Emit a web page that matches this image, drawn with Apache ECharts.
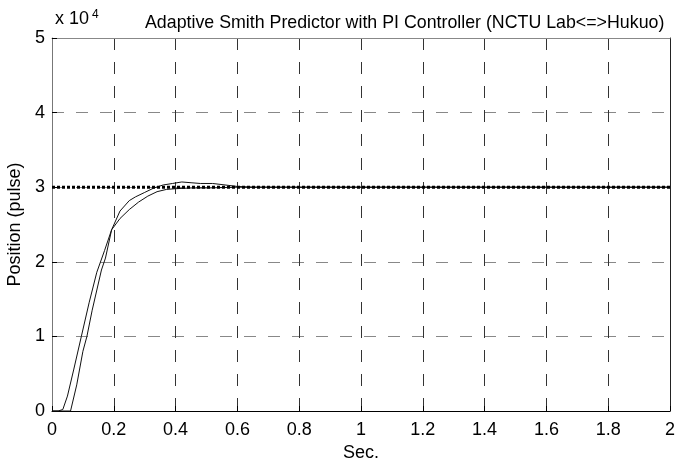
<!DOCTYPE html>
<html>
<head>
<meta charset="utf-8">
<script src="https://cdn.jsdelivr.net/npm/echarts@6/dist/echarts.min.js"></script>
<style>html,body{margin:0;padding:0;background:#fff;}#c{width:676px;height:461px;}</style>
</head>
<body>
<div id="c"></div>
<script>
// Time (sec) and position (x 10^4 pulse)
var tA = [0, 0.02, 0.035, 0.05, 0.07, 0.095, 0.12, 0.145, 0.17, 0.193, 0.22, 0.25, 0.28, 0.31, 0.34, 0.37, 0.40, 0.45, 0.50, 0.60, 1.0, 1.5, 2.0];
var vA = [0, 0, 0.02, 0.2, 0.55, 1.0, 1.45, 1.86, 2.15, 2.43, 2.58, 2.70, 2.80, 2.88, 2.94, 2.97, 2.98, 2.99, 2.99, 3.0, 3.0, 3.0, 3.0];
var tB = [0, 0.06, 0.065, 0.08, 0.10, 0.113, 0.13, 0.16, 0.173, 0.193, 0.22, 0.25, 0.27, 0.30, 0.33, 0.36, 0.39, 0.42, 0.45, 0.48, 0.52, 0.56, 0.60, 0.65, 1.0, 1.5, 2.0];
var vB = [0, 0, 0.02, 0.35, 0.8, 1.0, 1.35, 1.89, 2.05, 2.43, 2.68, 2.82, 2.87, 2.93, 2.99, 3.03, 3.05, 3.07, 3.06, 3.05, 3.05, 3.03, 3.01, 3.0, 3.0, 3.0, 3.0];
var tRef = [0, 2];
var vRef = [3, 3];
var xTicks = [0, 0.2, 0.4, 0.6, 0.8, 1, 1.2, 1.4, 1.6, 1.8, 2];
var yTicks = [0, 1, 2, 3, 4, 5];

function pairs(t, v) { return t.map(function (x, i) { return [x, v[i]]; }); }

var font = 'Liberation Sans, Arial, sans-serif';
var chart = echarts.init(document.getElementById('c'), null, {renderer: 'canvas'});
chart.setOption({
  animation: false,
  backgroundColor: '#fff',
  grid: {left: 52, right: 6, top: 38, bottom: 50, containLabel: false, outerBoundsMode: 'none'},
  title: {
    text: 'Adaptive Smith Predictor with PI Controller (NCTU Lab<=>Hukuo)',
    left: 140, top: 9,
    textStyle: {fontFamily: font, fontSize: 17.8, fontWeight: 'normal', color: '#000'}
  },
  graphic: [{
    type: 'text', left: 55, top: 9,
    style: {
      text: '{a|x 10}{b|4}',
      rich: {
        a: {fontFamily: font, fontSize: 18, fill: '#000'},
        b: {fontFamily: font, fontSize: 12, fill: '#000', verticalAlign: 'top', padding: [0, 0, 9, 3]}
      }
    }
  }],
  xAxis: [{
    type: 'value', min: 0, max: 2, interval: 0.2,
    name: 'Sec.', nameLocation: 'middle', nameGap: 32,
    nameTextStyle: {fontFamily: font, fontSize: 18, color: '#000'},
    axisLine: {lineStyle: {color: '#000', width: 1}},
    axisTick: {inside: true, length: 5, lineStyle: {color: '#000'}},
    axisLabel: {fontFamily: font, fontSize: 18, color: '#000', margin: 10,
      formatter: function (v) { return String(+v.toFixed(1)); }},
    splitLine: {show: true, lineStyle: {color: '#333', type: [12, 12], width: 1}}
  }, {
    type: 'value', min: 0, max: 2, interval: 0.2, position: 'top',
    axisLine: {show: true, onZero: false, lineStyle: {color: '#888'}},
    axisTick: {show: false}, axisLabel: {show: false}, splitLine: {show: false}
  }],
  yAxis: [{
    type: 'value', min: 0, max: 5, interval: 1,
    name: 'Position (pulse)', nameLocation: 'middle', nameGap: 28,
    nameTextStyle: {fontFamily: font, fontSize: 18, color: '#000'},
    axisLine: {show: true, lineStyle: {color: '#777', width: 1}},
    axisTick: {show: true, inside: true, length: 5, lineStyle: {color: '#000'}},
    axisLabel: {fontFamily: font, fontSize: 18, color: '#000', margin: 7},
    splitLine: {show: true, lineStyle: {color: '#888', type: [12, 12], width: 1}}
  }, {
    type: 'value', min: 0, max: 5, interval: 1, position: 'right',
    axisLine: {show: true, onZero: false, lineStyle: {color: '#222'}},
    axisTick: {show: false}, axisLabel: {show: false}, splitLine: {show: false}
  }],
  series: [{
    type: 'line', data: pairs(tA, vA), showSymbol: false, z: 3,
    lineStyle: {color: '#111', width: 1}
  }, {
    type: 'line', data: pairs(tB, vB), showSymbol: false, z: 3,
    lineStyle: {color: '#111', width: 1}
  }, {
    type: 'line', data: pairs(tRef, vRef), showSymbol: false, z: 4,
    lineStyle: {color: '#000', width: 3, type: [3, 2]}
  }]
});
</script>
</body>
</html>
